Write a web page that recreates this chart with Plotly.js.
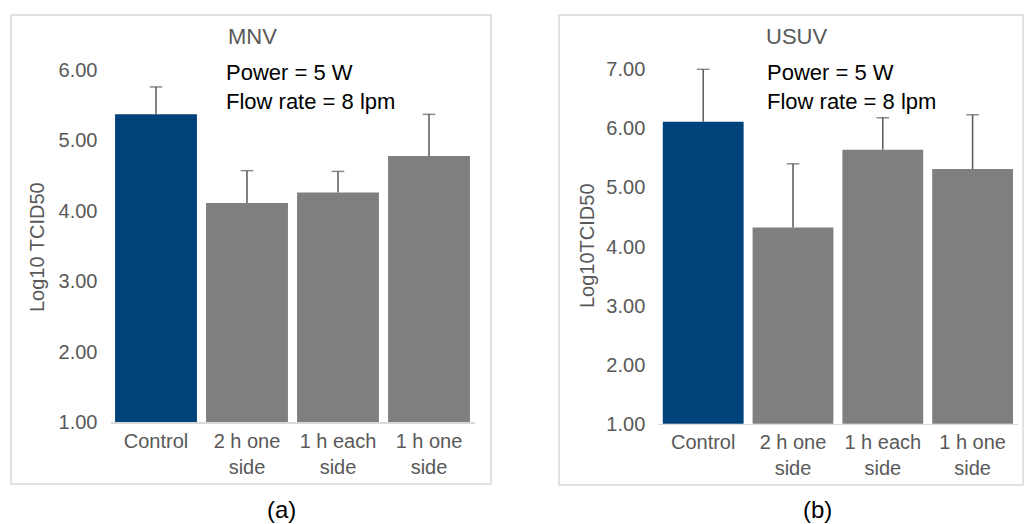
<!DOCTYPE html>
<html><head><meta charset="utf-8">
<script src="https://cdn.plot.ly/plotly-3.0.1.min.js"></script>
<style>html,body{margin:0;padding:0;background:#fff}#chart{width:1024px;height:524px}</style>
</head><body><div id="chart"></div>
<script>
const categories = ["Control", "2 h one<br>side", "1 h each<br>side", "1 h one<br>side"];
const mnvValues = [5.37, 4.11, 4.26, 4.78];
const mnvErrors = [0.39, 0.46, 0.30, 0.59];
const usuvValues = [6.11, 4.32, 5.64, 5.31];
const usuvErrors = [0.89, 1.08, 0.54, 0.92];
const barColors = ["#00427A", "#7F7F7F", "#7F7F7F", "#7F7F7F"];

const W = 1024, H = 524;
const px = x => x / W, py = y => 1 - y / H;
const FONT = "Liberation Sans, Arial, Helvetica, sans-serif";
const grey = "#595959";

function barTrace(vals, xa, ya) {
  return {
    type: "bar", x: categories, y: vals, xaxis: xa, yaxis: ya,
    marker: {color: barColors, line: {width: 0}},
    hoverinfo: "skip", showlegend: false
  };
}
// one-sided (plus) error bars: vertical stem from bar top to top of error, cap at top only
function errTrace(vals, errs, xa, ya) {
  const xs = [], ys = [], sizes = [];
  categories.forEach((c, i) => {
    xs.push(c, c, null);
    ys.push(vals[i], vals[i] + errs[i], null);
    sizes.push(0, 9, 0);
  });
  return {
    type: "scatter", mode: "lines+markers", x: xs, y: ys, xaxis: xa, yaxis: ya,
    connectgaps: false, cliponaxis: false,
    line: {color: grey, width: 1.5},
    marker: {symbol: "line-ew-open", size: sizes, color: grey, line: {color: grey, width: 1.5}},
    hoverinfo: "skip", showlegend: false
  };
}

const axisX = dom => ({
  domain: dom, showline: true, linecolor: "#D9D9D9", linewidth: 1.5,
  ticks: "", showgrid: false, zeroline: false, fixedrange: true,
  tickfont: {family: FONT, size: 20, color: grey}
});
const axisY = (dom, range) => ({
  domain: dom, range: range, dtick: 1, tick0: 0, tickformat: ".2f",
  showline: false, showgrid: false, zeroline: false, ticks: "",
  ticklabelstandoff: 12, fixedrange: true,
  tickfont: {family: FONT, size: 20, color: grey}
});

const layout = {
  width: W, height: H, margin: {l: 0, r: 0, t: 0, b: 0},
  paper_bgcolor: "#fff", plot_bgcolor: "rgba(0,0,0,0)",
  bargap: 0.1, font: {family: FONT},
  xaxis: Object.assign(axisX([px(110.5), px(474.5)]), {anchor: "y"}),
  yaxis: Object.assign(axisY([py(422), py(70)], [1, 6]), {anchor: "x"}),
  xaxis2: Object.assign(axisX([px(658.3), px(1017.5)]), {anchor: "y2"}),
  yaxis2: Object.assign(axisY([py(423.7), py(69.3)], [1, 7]), {anchor: "x2"}),
  shapes: [
    {type: "rect", xref: "paper", yref: "paper", x0: px(11), x1: px(491), y0: py(484), y1: py(15),
     line: {color: "#D9D9D9", width: 1.5}, layer: "below"},
    {type: "rect", xref: "paper", yref: "paper", x0: px(559), x1: px(1023), y0: py(485), y1: py(15),
     line: {color: "#D9D9D9", width: 1.5}, layer: "below"}
  ],
  annotations: [
    {text: "MNV", xref: "paper", yref: "paper", x: px(252), y: py(37), showarrow: false,
     xanchor: "center", yanchor: "middle", font: {family: FONT, size: 22, color: grey}},
    {text: "USUV", xref: "paper", yref: "paper", x: px(796), y: py(37), showarrow: false,
     xanchor: "center", yanchor: "middle", font: {family: FONT, size: 22, color: grey}},
    {text: "Power = 5 W<br>Flow rate = 8 lpm", xref: "paper", yref: "paper", x: px(224), y: py(58),
     showarrow: false, xanchor: "left", yanchor: "top", align: "left",
     font: {family: FONT, size: 22, color: "#000"}},
    {text: "Power = 5 W<br>Flow rate = 8 lpm", xref: "paper", yref: "paper", x: px(765), y: py(58),
     showarrow: false, xanchor: "left", yanchor: "top", align: "left",
     font: {family: FONT, size: 22, color: "#000"}},
    {text: "Log10 TCID50", xref: "paper", yref: "paper", x: px(37), y: py(247), textangle: -90,
     showarrow: false, xanchor: "center", yanchor: "middle", font: {family: FONT, size: 20, color: grey}},
    {text: "Log10TCID50", xref: "paper", yref: "paper", x: px(587), y: py(246), textangle: -90,
     showarrow: false, xanchor: "center", yanchor: "middle", font: {family: FONT, size: 20, color: grey}},
    {text: "(a)", xref: "paper", yref: "paper", x: px(281), y: py(509), showarrow: false,
     xanchor: "center", yanchor: "middle", font: {family: FONT, size: 24, color: "#000"}},
    {text: "(b)", xref: "paper", yref: "paper", x: px(817), y: py(509), showarrow: false,
     xanchor: "center", yanchor: "middle", font: {family: FONT, size: 24, color: "#000"}}
  ]
};

Plotly.newPlot("chart", [
  barTrace(mnvValues, "x", "y"), errTrace(mnvValues, mnvErrors, "x", "y"),
  barTrace(usuvValues, "x2", "y2"), errTrace(usuvValues, usuvErrors, "x2", "y2")
], layout, {displayModeBar: false, staticPlot: true});
</script></body></html>
